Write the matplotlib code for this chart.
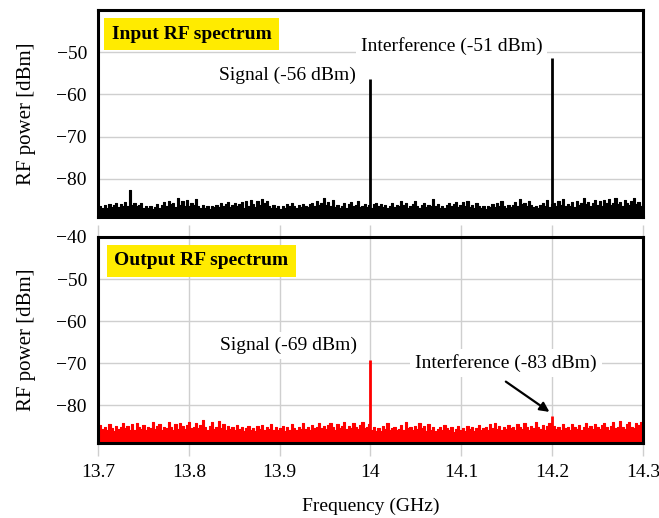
import numpy as np
import matplotlib
matplotlib.use("Agg")
import matplotlib.pyplot as plt

plt.rcParams['font.family'] = ['Liberation Serif', 'DejaVu Serif']
plt.rcParams['mathtext.fontset'] = 'stix'

# frequency span (GHz)
f_start, f_stop = 13.7, 14.3

# noise floor of the input spectrum (dBm)
input_noise = [
    -87.2, -86.5, -86.9, -86.1, -86.8, -85.9, -86.6, -86.2, -85.6, -86.7, -86.0, -86.4, -85.4, -86.3, -82.6, -86.1, -85.8, -86.5, -86.2, -85.7,
    -86.8, -86.3, -86.9, -86.4, -87.0, -86.6, -85.9, -86.8, -86.1, -85.5, -86.4, -85.2, -86.0, -85.8, -86.7, -84.6, -86.2, -85.1, -86.5, -84.9,
    -86.3, -85.6, -86.1, -84.8, -86.4, -86.9, -86.2, -86.8, -86.5, -87.0, -86.3, -86.7, -86.1, -86.6, -85.8, -86.4, -86.0, -85.5, -86.7, -86.2,
    -85.7, -86.5, -86.0, -85.4, -86.8, -85.1, -86.3, -84.9, -85.9, -86.6, -85.2, -86.1, -84.7, -85.8, -85.3, -86.5, -86.9, -86.2, -86.8, -86.4,
    -87.1, -86.3, -86.9, -86.0, -86.5, -85.7, -86.4, -86.8, -86.1, -86.6, -85.9, -86.3, -86.7, -86.0, -85.6, -86.5, -85.2, -86.2, -85.8, -84.6,
    -86.1, -85.5, -86.4, -85.0, -86.6, -86.2, -86.9, -86.3, -85.7, -86.8, -86.0, -85.4, -86.5, -86.1, -85.2, -86.7, -86.3, -85.9, -86.6, -86.2,
    -86.8, -86.0, -85.6, -86.4, -85.9, -86.7, -86.2, -86.9, -86.4, -85.8, -86.6, -86.1, -86.5, -85.3, -86.2, -85.7, -86.8, -86.3, -86.0, -85.1,
    -86.4, -86.9, -86.2, -85.6, -86.7, -86.1, -86.5, -84.8, -86.3, -85.9, -86.8, -86.4, -86.9, -86.2, -85.7, -86.5, -86.0, -85.4, -86.6, -86.1,
    -85.5, -86.3, -85.1, -86.7, -86.2, -86.8, -85.8, -86.4, -86.9, -86.5, -87.0, -86.3, -86.7, -86.0, -86.6, -85.7, -86.3, -85.2, -86.5, -86.8,
    -86.1, -86.6, -86.2, -85.4, -86.4, -84.7, -86.0, -85.8, -86.5, -85.3, -86.2, -86.7, -86.4, -86.9, -86.1, -85.6, -86.3, -84.9, -86.6, -86.0,
    -85.7, -86.4, -85.2, -86.1, -84.8, -86.5, -85.9, -86.3, -85.5, -86.6, -85.1, -86.2, -85.8, -84.6, -86.0, -85.4, -86.4, -85.7, -84.9, -86.1,
    -85.3, -86.5, -85.0, -85.8, -84.7, -86.2, -85.6, -84.5, -86.0, -85.4, -86.3, -84.9, -85.7, -86.1, -85.2, -84.4, -86.0, -85.5, -86.4, -85.9,
]

# noise floor of the output spectrum (dBm)
output_noise = [
    -86.0, -84.8, -85.6, -85.2, -85.9, -84.5, -85.4, -86.1, -85.0, -85.7, -85.3, -84.3, -85.5, -84.9, -85.8, -84.6, -86.0, -84.2, -85.1, -85.6,
    -84.7, -85.9, -85.2, -85.5, -84.1, -85.7, -85.0, -84.4, -85.8, -85.1, -85.4, -84.0, -85.3, -85.9, -84.6, -85.6, -84.3, -85.0, -85.7, -84.8,
    -83.9, -85.4, -85.1, -84.2, -85.5, -84.7, -83.6, -85.3, -85.8, -84.9, -84.1, -85.6, -85.2, -83.8, -85.4, -84.5, -85.9, -85.0, -85.6, -85.3,
    -86.0, -84.8, -85.7, -85.1, -86.2, -85.5, -84.9, -85.8, -85.4, -86.1, -85.0, -85.6, -84.7, -85.9, -85.2, -85.7, -84.5, -86.0, -85.3, -85.8,
    -85.5, -85.0, -86.2, -85.3, -85.8, -84.6, -85.4, -85.9, -85.1, -85.6, -84.3, -85.7, -85.2, -86.0, -84.8, -85.5, -85.1, -84.2, -85.4, -84.9,
    -85.6, -84.7, -84.3, -85.2, -85.8, -84.5, -85.4, -85.0, -84.1, -85.7, -84.9, -85.5, -84.2, -85.3, -85.6, -84.8, -84.0, -85.4, -85.1, -84.6,
    -85.8, -85.3, -86.1, -85.5, -86.2, -85.0, -85.7, -84.3, -85.9, -85.4, -85.1, -86.0, -85.6, -84.7, -85.8, -84.1, -85.5, -85.2, -85.9, -84.9,
    -85.6, -84.3, -85.4, -85.0, -86.1, -84.6, -85.8, -85.3, -86.2, -85.7, -85.1, -86.0, -84.8, -85.5, -85.9, -85.2, -86.3, -85.6, -85.0, -85.8,
    -85.4, -86.1, -84.9, -85.7, -85.3, -86.2, -85.5, -84.8, -85.9, -85.4, -85.1, -85.8, -84.6, -85.5, -84.2, -85.7, -85.0, -86.0, -85.3, -85.6,
    -84.8, -85.5, -85.2, -85.9, -84.5, -85.3, -85.7, -84.3, -85.1, -85.8, -84.9, -85.4, -84.1, -85.2, -85.6, -84.7, -85.9, -85.0, -84.2, -85.4,
    -84.9, -85.7, -85.3, -86.0, -84.6, -85.5, -85.1, -85.8, -84.4, -85.2, -85.6, -84.8, -85.9, -85.3, -84.3, -85.5, -85.0, -85.7, -84.5, -85.2,
    -85.6, -84.7, -84.2, -85.3, -85.8, -84.9, -84.0, -85.4, -85.1, -83.8, -85.3, -85.7, -84.6, -84.1, -85.2, -85.5, -84.3, -84.8, -83.9, -85.0,
]

# tones: signal at 14.0 GHz, interference at 14.2 GHz
tone_freq = [14.0, 14.2]
input_tone_level = [-56.3, -51.3]
output_tone_level = [-69.3, -82.6]

y_floor = -89
input_yticks = [-50, -60, -70, -80]
output_yticks = [-40, -50, -60, -70, -80]
xticks = [13.7, 13.8, 13.9, 14.0, 14.1, 14.2, 14.3]
xticklabels = ['13.7', '13.8', '13.9', '14', '14.1', '14.2', '14.3']

grid_c = '#cfcfcf'
yellow = '#ffeb00'
fs = 14

fig = plt.figure(figsize=(6.59, 5.18), dpi=100)
ax1 = fig.add_axes([0.1487, 0.5811, 0.8270, 0.3996])
ax2 = fig.add_axes([0.1487, 0.1448, 0.8270, 0.3977])


def draw_panel(ax, noise, levels, color, yticks):
    f = np.linspace(f_start, f_stop, len(noise))
    ax.fill_between(f, y_floor, noise, color=color, lw=0, step='mid', zorder=2)
    ax.plot(f, noise, color=color, lw=0.8, drawstyle='steps-mid', zorder=2)
    ax.vlines(tone_freq, y_floor, levels, color=color, lw=2, zorder=2)
    ax.set_xlim(f_start, f_stop)
    ax.set_ylim(y_floor, -40)
    ax.set_yticks(yticks)
    ax.set_xticks(xticks)
    ax.yaxis.grid(True, color=grid_c, lw=1, zorder=0)
    ax.tick_params(axis='y', length=0, labelsize=fs, pad=8)
    for s in ax.spines.values():
        s.set_linewidth(2.2)
        s.set_zorder(5)
    ax.set_ylabel('RF power [dBm]', fontsize=15)
    ax.yaxis.set_label_coords(-0.113, 0.5)


draw_panel(ax1, input_noise, input_tone_level, 'black', input_yticks)
draw_panel(ax2, output_noise, output_tone_level, '#ff0000', output_yticks)

ax1.tick_params(axis='x', labelbottom=False, length=0)
ax2.xaxis.grid(True, color=grid_c, lw=1, zorder=0)
ax2.set_xticklabels(xticklabels)
ax2.tick_params(axis='x', which='both', direction='out', length=9, width=1,
                color=grid_c, labelsize=fs, pad=6, top=True)
ax2.set_xlabel('Frequency (GHz)', fontsize=fs, labelpad=12)

white = dict(boxstyle='square,pad=0.25', fc='white', ec='none')
ybox = dict(boxstyle='square,pad=0.4', fc=yellow, ec='none')

ax1.text(13.803, -45.7, 'Input RF spectrum', fontsize=fs, fontweight='bold',
         ha='center', va='center', bbox=ybox, zorder=6)
ax1.text(13.909, -55.4, 'Signal (-56 dBm)', fontsize=fs, ha='center',
         va='center', bbox=white, zorder=4)
ax1.text(14.089, -48.6, 'Interference (-51 dBm)', fontsize=fs, ha='center',
         va='center', bbox=white, zorder=4)

ax2.text(13.814, -45.7, 'Output RF spectrum', fontsize=fs, fontweight='bold',
         ha='center', va='center', bbox=ybox, zorder=6)
ax2.text(13.910, -65.7, 'Signal (-69 dBm)', fontsize=fs, ha='center',
         va='center', bbox=white, zorder=4)
ax2.text(14.149, -70.0, 'Interference (-83 dBm)', fontsize=fs, ha='center',
         va='center', bbox=white, zorder=4)
ax2.annotate('', xy=(14.197, -81.6), xytext=(14.149, -74.4),
             arrowprops=dict(arrowstyle='-|>', color='black', lw=1.6,
                             mutation_scale=14, shrinkA=0, shrinkB=0),
             zorder=4)

fig.savefig('out.png', dpi=100)
